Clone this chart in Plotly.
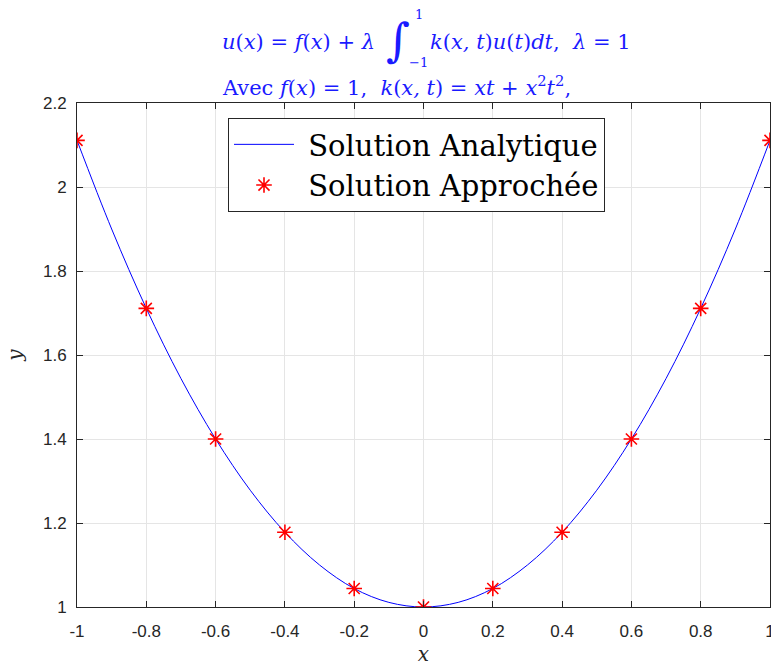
import plotly.graph_objects as go

# Analytic solution
x_curve = [-1.0, -0.9, -0.8, -0.7, -0.6, -0.5, -0.4, -0.3, -0.2, -0.1, 0.0,
           0.1, 0.2, 0.3, 0.4, 0.5, 0.6, 0.7, 0.8, 0.9, 1.0]
y_curve = [2.111, 1.900, 1.711, 1.544, 1.400, 1.278, 1.178, 1.100, 1.044, 1.011, 1.000,
           1.011, 1.044, 1.100, 1.178, 1.278, 1.400, 1.544, 1.711, 1.900, 2.111]

# Approximate solution (markers)
x_pts = [-1.0, -0.8, -0.6, -0.4, -0.2, 0.0, 0.2, 0.4, 0.6, 0.8, 1.0]
y_pts = [2.111, 1.711, 1.400, 1.178, 1.044, 1.000, 1.044, 1.178, 1.400, 1.711, 2.111]

x_ticks = [-1, -0.8, -0.6, -0.4, -0.2, 0, 0.2, 0.4, 0.6, 0.8, 1]
x_ticklabels = ["-1", "-0.8", "-0.6", "-0.4", "-0.2", "0", "0.2", "0.4", "0.6", "0.8", "1"]
y_ticks = [1, 1.2, 1.4, 1.6, 1.8, 2, 2.2]
y_ticklabels = ["1", "1.2", "1.4", "1.6", "1.8", "2", "2.2"]

W, H = 771, 666
L, R, T, B = 77, 1, 103, 59
PW = W - L - R
PH = H - T - B

def px(xp):
    return (xp - L) / PW

def py(yp):
    return (H - B - yp) / PH

fig = go.Figure()
fig.add_trace(go.Scatter(x=x_curve, y=y_curve, mode="lines", line=dict(color="#0000ff", width=1, shape="spline"),
                         name=" Solution Analytique"))
fig.add_trace(go.Scatter(x=x_pts, y=y_pts, mode="markers",
                         marker=dict(symbol="asterisk-open", size=13, color="#ff0000",
                                     line=dict(color="#ff0000", width=1.6)),
                         name=" Solution Approchée"))

axis_common = dict(showline=True, linecolor="#262626", linewidth=1, mirror="ticks",
                   ticks="inside", ticklen=6, tickcolor="#262626",
                   showgrid=True, gridcolor="#e5e5e5", gridwidth=1, zeroline=False,
                   ticklabeloverflow="allow", automargin=False,
                   tickfont=dict(family="Liberation Sans, Arial", size=17, color="#262626"))

fig.update_xaxes(range=[-1, 1], tickvals=x_ticks, ticktext=x_ticklabels, ticklabelstandoff=9,
                 title=dict(text="<i>x</i>", font=dict(family="DejaVu Serif", size=20, color="#262626"), standoff=10),
                 **axis_common)
fig.update_yaxes(range=[1, 2.2], tickvals=y_ticks, ticktext=y_ticklabels, ticklabelstandoff=6,
                 title=dict(text="<i>y</i>", font=dict(family="DejaVu Serif", size=20, color="#262626"), standoff=14),
                 **axis_common)

blue = "#1a1aff"
SF = "DejaVu Serif"
tf = dict(family=SF, size=21, color=blue)
ann = []
ann.append(dict(text="<i>u</i>(<i>x</i>) = <i>f</i>(<i>x</i>) + <i>λ</i>", x=px(220), y=py(42),
                xanchor="left", yanchor="middle", font=tf))
ann.append(dict(text="<i>∫</i>", x=px(398), y=py(40), xanchor="center", yanchor="middle",
                font=dict(family=SF, size=46, color=blue)))
ann.append(dict(text="1", x=px(413), y=py(15), xanchor="left", yanchor="middle",
                font=dict(family=SF, size=13, color=blue)))
ann.append(dict(text="−1", x=px(407), y=py(62), xanchor="left", yanchor="middle",
                font=dict(family=SF, size=13, color=blue)))
ann.append(dict(text="<i>k</i>(<i>x, t</i>)<i>u</i>(<i>t</i>)<i>dt</i>,  <i>λ</i> = 1", x=px(428), y=py(42),
                xanchor="left", yanchor="middle", font=tf))
ann.append(dict(text="Avec <i>f</i>(<i>x</i>) = 1,  <i>k</i>(<i>x, t</i>) = <i>xt</i> + <i>x</i><sup>2</sup><i>t</i><sup>2</sup>,",
                x=px(220), y=py(86), xanchor="left", yanchor="middle", font=tf))
for a in ann:
    a.update(xref="paper", yref="paper", showarrow=False)

fig.update_layout(
    width=W, height=H,
    margin=dict(l=L, r=R, t=T, b=B),
    plot_bgcolor="white", paper_bgcolor="white",
    annotations=ann,
    showlegend=True,
    legend=dict(x=px(228), y=py(118), xanchor="left", yanchor="top",
                bgcolor="white", bordercolor="#262626", borderwidth=1,
                font=dict(family=SF, size=29, color="#000000"),
                itemwidth=60),
)

fig.write_html("out.html")
